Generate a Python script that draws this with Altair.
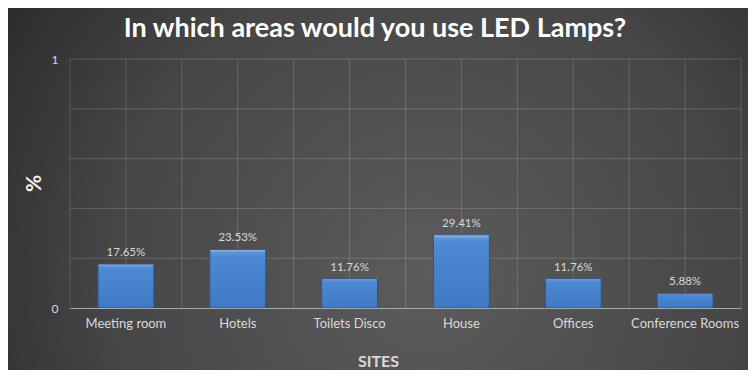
import altair as alt
import pandas as pd

title_text = "In which areas would you use LED Lamps?"
categories = ["Meeting room", "Hotels", "Toilets Disco", "House", "Offices", "Conference Rooms"]
values = [0.1765, 0.2353, 0.1176, 0.2941, 0.1176, 0.0588]
grid_y = [0.2, 0.4, 0.6, 0.8, 1.0]
y_ticks = [0, 1]

W, H = 671, 249
PL, PT, PR, PB = 62, 51, 7, 62
FONT = "Lato"
LABEL = "#d9d9d9"

df = pd.DataFrame({"site": categories, "value": values})
gdf = pd.DataFrame({"g": grid_y})
bg_df = pd.DataFrame({"t": [title_text]})

xs = dict(field="site", type="nominal", sort=categories,
          scale=alt.Scale(paddingInner=0, paddingOuter=0))

bg = alt.Chart(bg_df).mark_rect(
    fill=alt.RadialGradient(
        gradient="radial", x1=0.55, y1=0.6, r1=0.0, x2=0.55, y2=0.6, r2=0.75,
        stops=[alt.GradientStop(offset=0, color="#5c5c5c"),
               alt.GradientStop(offset=0.55, color="#464646"),
               alt.GradientStop(offset=1, color="#222222")])
).encode(x=alt.value(-PL), x2=alt.value(W + PR + 20),
         y=alt.value(-PT), y2=alt.value(H + PB + 20))

title = alt.Chart(bg_df).mark_text(
    font=FONT, fontSize=27, fontWeight="bold", color="#ffffff",
    align="center", baseline="alphabetic"
).encode(x=alt.value(305), y=alt.value(-22), text="t:N")

gcol = "#ffffff"
gop = 0.16

hgrid = alt.Chart(gdf).mark_rule(color=gcol, opacity=gop, strokeWidth=1).encode(
    y=alt.Y("g:Q"), x=alt.value(0), x2=alt.value(W))

vgrid_c = alt.Chart(df).mark_rule(color=gcol, opacity=gop).encode(
    x=alt.X(**xs, bandPosition=0.5))
vgrid_l = alt.Chart(df).mark_rule(color=gcol, opacity=gop).encode(
    x=alt.X(**xs, bandPosition=0))
vgrid_r = alt.Chart(df).transform_filter(
    alt.datum.site == categories[-1]).mark_rule(color=gcol, opacity=gop).encode(
    x=alt.X(**xs, bandPosition=1))

bars = alt.Chart(df).mark_bar(
    width=alt.RelativeBandSize(0.5),
    fill=alt.LinearGradient(
        gradient="linear", x1=0, y1=0, x2=0, y2=1,
        stops=[alt.GradientStop(offset=0, color="#93c0f2"),
               alt.GradientStop(offset=0.05, color="#5b96dc"),
               alt.GradientStop(offset=0.12, color="#4c89d4"),
               alt.GradientStop(offset=1, color="#4079c3")]),
    stroke="#2a5590", strokeWidth=1
).encode(
    x=alt.X(**xs, bandPosition=0.5, axis=alt.Axis(
        title="SITES", titleFontSize=16, titleFontWeight="bold", titleColor=LABEL,
        titleFont=FONT, titleX=308, titleY=58, titleBaseline="alphabetic",
        titleAnchor="start", titleAlign="center", zindex=1, bandPosition=0.5,
        labelFont=FONT, labelFontSize=13, labelColor=LABEL, labelPadding=15,
        labelAlign="center", labelAngle=0, ticks=False, grid=False,
        domainColor="#a8a8a8", domainWidth=1.2)),
    y=alt.Y("value:Q", scale=alt.Scale(domain=[0, 1]), axis=alt.Axis(
        values=y_ticks, title="%", titleFontSize=21, titleFontWeight="bold",
        titleColor="#f2f2f2", titleFont=FONT, titleX=-36, titleY=124,
        titleBaseline="middle", titleAlign="center", titleAngle=270, zindex=1,
        labelFont=FONT, labelFontSize=12, labelColor=LABEL, labelPadding=12,
        ticks=False, domain=False, grid=False, format="d"))
)

texts = alt.Chart(df).mark_text(
    dy=-8, baseline="alphabetic", font=FONT, fontSize=11.5, color=LABEL
).encode(
    x=alt.X(**xs, bandPosition=0.5),
    y=alt.Y("value:Q"),
    text=alt.Text("value:Q", format=".2%"))

chart = alt.layer(bg, title, hgrid, vgrid_c, vgrid_l, vgrid_r, bars, texts).properties(
    width=W, height=H,
    autosize=alt.AutoSizeParams(type="none"),
    padding={"left": PL, "top": PT, "right": PR, "bottom": PB},
    background="#2b2b2b"
).configure_view(stroke=None)

chart.save("out.html", embed_options={"renderer": "svg", "actions": False})
